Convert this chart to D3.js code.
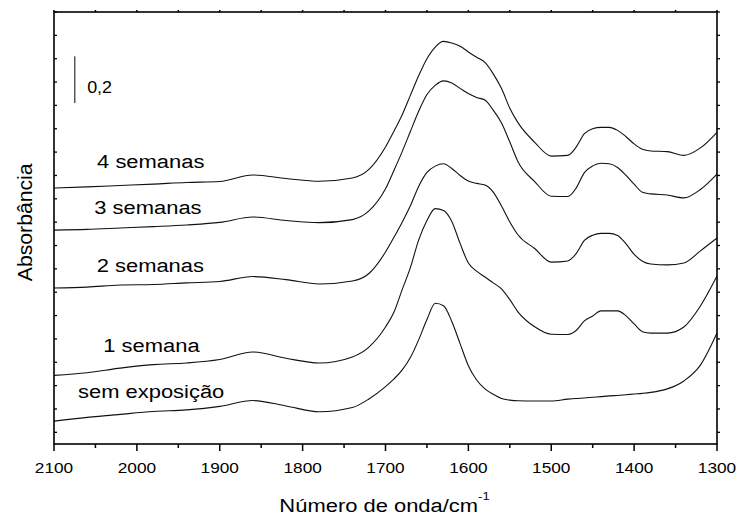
<!DOCTYPE html>
<html>
<head>
<meta charset="utf-8">
<script src="https://cdn.jsdelivr.net/npm/d3@7"></script>
<style>
body { margin: 0; background: #fff; }
text { font-family: "Liberation Sans", Arial, sans-serif; fill: #000; }
</style>
</head>
<body>
<svg id="chart" width="739" height="515"></svg>
<script>
// wavenumbers (cm-1) at which the spectra were read
var wavenumbers = [2100, 2060, 2020, 1980, 1940, 1900, 1860, 1820, 1780, 1740,
    1720, 1700, 1690, 1680, 1670, 1660, 1650, 1640, 1630, 1620,
    1610, 1600, 1590, 1580, 1570, 1560, 1550, 1540, 1520, 1500,
    1480, 1470, 1460, 1450, 1440, 1430, 1420, 1410, 1400, 1390,
    1380, 1360, 1340, 1320, 1300];

// absorbance (stacked, arbitrary offset)
var semExposicao = [0.098, 0.114, 0.127, 0.139, 0.146, 0.161, 0.186, 0.163, 0.138, 0.156,
    0.193, 0.246, 0.278, 0.316, 0.370, 0.446, 0.533, 0.603, 0.592, 0.525,
    0.430, 0.335, 0.274, 0.236, 0.213, 0.195, 0.188, 0.185, 0.184, 0.184,
    0.192, 0.195, 0.197, 0.200, 0.203, 0.206, 0.208, 0.211, 0.214, 0.217,
    0.221, 0.236, 0.270, 0.338, 0.475];
var semana1 = [0.294, 0.305, 0.325, 0.340, 0.347, 0.362, 0.394, 0.367, 0.347, 0.373,
    0.415, 0.501, 0.563, 0.660, 0.755, 0.873, 0.957, 1.008, 1.000, 0.953,
    0.859, 0.775, 0.740, 0.715, 0.690, 0.664, 0.618, 0.565, 0.502, 0.470,
    0.469, 0.486, 0.527, 0.548, 0.570, 0.570, 0.570, 0.550, 0.514, 0.481,
    0.475, 0.475, 0.501, 0.591, 0.719];
var semanas2 = [0.668, 0.672, 0.681, 0.683, 0.690, 0.696, 0.717, 0.704, 0.685, 0.698,
    0.730, 0.822, 0.884, 0.949, 1.020, 1.103, 1.163, 1.190, 1.200, 1.180,
    1.150, 1.126, 1.116, 1.109, 1.079, 1.019, 0.951, 0.895, 0.837, 0.779,
    0.784, 0.815, 0.872, 0.894, 0.902, 0.902, 0.893, 0.858, 0.812, 0.783,
    0.771, 0.767, 0.775, 0.827, 0.882];
var semanas3 = [0.916, 0.919, 0.925, 0.931, 0.938, 0.949, 0.972, 0.957, 0.948, 0.961,
    0.998, 1.093, 1.170, 1.251, 1.338, 1.425, 1.497, 1.536, 1.555, 1.546,
    1.523, 1.501, 1.484, 1.473, 1.430, 1.375, 1.293, 1.208, 1.124, 1.061,
    1.060, 1.096, 1.162, 1.191, 1.202, 1.200, 1.184, 1.151, 1.113, 1.078,
    1.071, 1.066, 1.054, 1.090, 1.156];
var semanas4 = [1.096, 1.101, 1.107, 1.113, 1.120, 1.124, 1.152, 1.137, 1.125, 1.139,
    1.176, 1.272, 1.338, 1.409, 1.493, 1.577, 1.650, 1.700, 1.724, 1.717,
    1.703, 1.679, 1.656, 1.634, 1.585, 1.522, 1.438, 1.375, 1.292, 1.233,
    1.236, 1.271, 1.329, 1.350, 1.356, 1.356, 1.343, 1.317, 1.285, 1.262,
    1.255, 1.252, 1.236, 1.268, 1.335];

var seriesNames = ["sem exposição", "1 semana", "2 semanas", "3 semanas", "4 semanas"];
var seriesValues = [semExposicao, semana1, semanas2, semanas3, semanas4];

var xTickValues = [2100, 2000, 1900, 1800, 1700, 1600, 1500, 1400, 1300];
var xMinorValues = [2050, 1950, 1850, 1750, 1650, 1550, 1450, 1350];
var yTickValues = d3.range(19).map(function (i) { return 0.05 + 0.1 * i; });

// where each curve label sits (wavenumber, absorbance)
var labelAnchors = [[2071, 0.196], [2040.5, 0.393], [2048.5, 0.738], [2051.4, 0.985], [2048, 1.181]];

function drawChart() {
    var svg = d3.select('#chart');
    var pLeft = 54, pRight = 717, pTop = 12, pBottom = 444;

    var x = d3.scaleLinear().domain([2100, 1300]).range([pLeft, pRight]);
    var y = d3.scaleLinear().domain([0, 1.85]).range([pBottom, pTop]);

    var line = d3.line()
        .x(function (d) { return x(d[0]); })
        .y(function (d) { return y(d[1]); })
        .curve(d3.curveMonotoneX);

    // spectra
    seriesValues.forEach(function (vals) {
        svg.append('path')
            .attr('d', line(wavenumbers.map(function (w, i) { return [w, vals[i]]; })))
            .attr('fill', 'none')
            .attr('stroke', '#111')
            .attr('stroke-width', 1.1);
    });

    // frame
    svg.append('rect')
        .attr('x', pLeft).attr('y', pTop)
        .attr('width', pRight - pLeft).attr('height', pBottom - pTop)
        .attr('fill', 'none').attr('stroke', '#000').attr('stroke-width', 1.6);

    // bottom axis
    var bottomAxis = svg.append('g').attr('transform', 'translate(0,' + pBottom + ')');
    bottomAxis.selectAll('.major').data(xTickValues).enter().append('line')
        .attr('x1', x).attr('x2', x).attr('y1', 0).attr('y2', 7)
        .attr('stroke', '#000').attr('stroke-width', 1.5);
    bottomAxis.selectAll('.minor').data(xMinorValues).enter().append('line')
        .attr('x1', x).attr('x2', x).attr('y1', 0).attr('y2', 4)
        .attr('stroke', '#000').attr('stroke-width', 1.5);
    bottomAxis.selectAll('.lbl').data(xTickValues).enter().append('text')
        .attr('transform', function (d) { return 'translate(' + x(d) + ',29.3) scale(1.12,1)'; })
        .attr('text-anchor', 'middle')
        .style('font-size', '15.4px')
        .text(function (d) { return d; });

    // top axis ticks
    svg.selectAll('.topTick').data(xTickValues.concat(xMinorValues)).enter().append('line')
        .attr('x1', x).attr('x2', x).attr('y1', pTop).attr('y2', pTop - 2)
        .attr('stroke', '#000').attr('stroke-width', 1.5);

    // left / right minor ticks
    svg.selectAll('.leftTick').data(yTickValues).enter().append('line')
        .attr('x1', pLeft).attr('x2', pLeft + 3).attr('y1', y).attr('y2', y)
        .attr('stroke', '#000').attr('stroke-width', 1.3);
    svg.selectAll('.rightTick').data(yTickValues).enter().append('line')
        .attr('x1', pRight).attr('x2', pRight + 3).attr('y1', y).attr('y2', y)
        .attr('stroke', '#000').attr('stroke-width', 1.3);

    // scale bar
    svg.append('line')
        .attr('x1', x(2075)).attr('x2', x(2075))
        .attr('y1', y(1.46)).attr('y2', y(1.66))
        .attr('stroke', '#555').attr('stroke-width', 1.5);
    svg.append('text')
        .attr('transform', 'translate(' + x(2060) + ',' + y(1.502) + ') scale(1.12,1)')
        .style('font-size', '16px')
        .text('0,2');

    // curve labels
    seriesNames.forEach(function (name, i) {
        svg.append('text')
            .attr('transform', 'translate(' + x(labelAnchors[i][0]) + ',' + y(labelAnchors[i][1]) + ') scale(1.18,1)')
            .style('font-size', '18.6px')
            .text(name);
    });

    // axis titles
    var xt = svg.append('text')
        .attr('transform', 'translate(' + ((pLeft + pRight) / 2 - 1) + ',511.7) scale(1.18,1)')
        .attr('text-anchor', 'middle')
        .style('font-size', '18.6px');
    xt.append('tspan').text('Número de onda/cm');
    xt.append('tspan').attr('dy', -11.7).style('font-size', '11px').text('-1');

    svg.append('text')
        .attr('transform', 'translate(31.7,222.3) rotate(-90) scale(1.14,1.1)')
        .attr('text-anchor', 'middle')
        .style('font-size', '18.6px')
        .text('Absorbância');
}

drawChart();
</script>
</body>
</html>
